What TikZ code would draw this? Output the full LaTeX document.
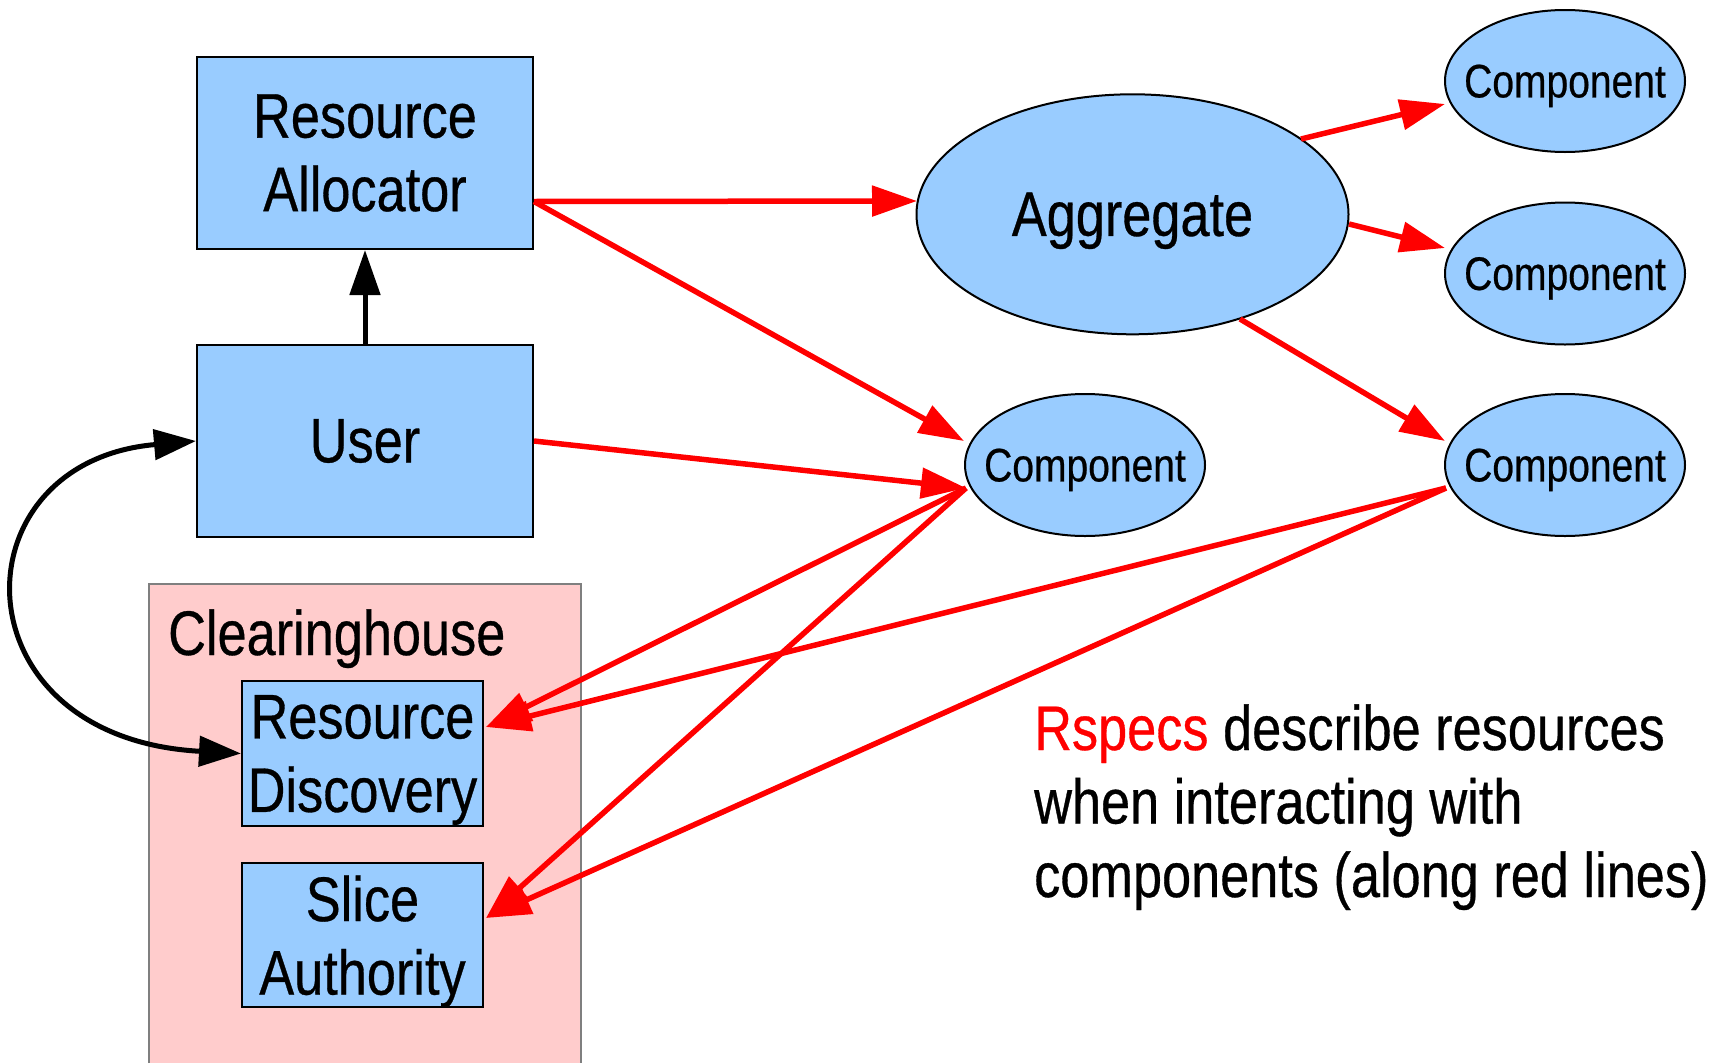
\documentclass[tikz,border=0pt]{standalone}
\usepackage{fontspec}
\setmainfont{Liberation Sans}[FakeStretch=0.83,FakeBold=0.5]
\usetikzlibrary{arrows.meta,shapes.geometric,calc}
\definecolor{nodeblue}{HTML}{99CCFF}
\definecolor{chpink}{HTML}{FFCCCC}
\definecolor{chborder}{HTML}{7F7F7F}
\begin{document}
\begin{tikzpicture}[x=1pt,y=-1pt,
  bigfont/.style={font=\fontsize{63}{73.5}\selectfont},
  boxnode/.style={draw=black,line width=2pt,fill=nodeblue,rectangle,inner sep=0pt,align=center,bigfont},
  ellnode/.style={draw=black,line width=2pt,fill=nodeblue,ellipse,inner sep=0pt,text depth=0pt},
  compnode/.style={ellnode,minimum width=240pt,minimum height=142pt,font=\fontsize{47}{55}\selectfont},
  redarrow/.style={draw=red,line width=5.5pt,-{Triangle[length=45pt,width=30pt]}},
  blackarrow/.style={draw=black,line width=5pt,-{Triangle[length=45pt,width=30pt]}},
  dblarrow/.style={draw=black,line width=5pt,{Triangle[length=42pt,width=30pt]}-{Triangle[length=42pt,width=30pt]}},
]
\useasboundingbox (0,0) rectangle (1719,1063);

% Clearinghouse
\fill[chpink] (149,584) rectangle (581,1063);
\draw[chborder,line width=1.5pt] (149,1063) -- (149,584) -- (581,584) -- (581,1063);
\node[bigfont,anchor=base west,inner sep=0pt] (CHlabel) at (168,655) {Clearinghouse};

% Boxes
\node[boxnode,minimum width=336pt,minimum height=192pt] (RA) at (365,153) {Resource\\Allocator};
\node[boxnode,minimum width=336pt,minimum height=192pt] (User) at (365,441) {User};
\node[boxnode,minimum width=241pt,minimum height=145pt,text depth=0pt] (RD) at (362.5,753.5) {Resource\\Discovery};
\node[boxnode,minimum width=241pt,minimum height=144pt,text depth=0pt] (SA) at (362.5,935) {Slice\\Authority};

% Ellipses
\node[ellnode,minimum width=432pt,minimum height=240pt,font=\fontsize{63}{73}\selectfont] (Agg) at (1132.5,214.3) {\makebox[0pt]{Aggregate}};
\node[compnode] (C1) at (1565,81) {\makebox[0pt]{Component}};
\node[compnode] (C2) at (1565,273.5) {\makebox[0pt]{Component}};
\node[compnode] (C3) at (1565,465) {\makebox[0pt]{Component}};
\node[compnode] (CM) at (1085,465) {\makebox[0pt]{Component}};

% Annotation
\node[bigfont,anchor=base west,align=left,inner sep=0pt] (note) at (1034,897)
  {\textcolor{red}{Rspecs} describe resources\\when interacting with\\components (along red lines)};

% Connector end points
\coordinate (raOut) at ($(RA.south east)!0.25!(RA.north east)$);
\coordinate (aggIn) at ($(Agg.center)+(-215.5,-13.3)$);
\coordinate (aggO1) at ($(Agg.center)+(168.5,-75.3)$);
\coordinate (aggO2) at ($(Agg.center)+(216.5,9.7)$);
\coordinate (aggO3) at ($(Agg.center)+(107.5,104.7)$);
\coordinate (c1In) at ($(C1.center)+(-120,23)$);
\coordinate (c2In) at ($(C2.center)+(-120,-25.5)$);
\coordinate (c3In) at ($(C3.center)+(-120,-24)$);
\coordinate (c3Out) at ($(C3.center)+(-119,23)$);
\coordinate (cmIn) at ($(CM.center)+(-121,-24)$);
\coordinate (cmOut) at ($(CM.center)+(-119,23)$);
\coordinate (rdIn) at ($(RD.north east)+(2,47)$);
\coordinate (saIn) at ($(SA.north east)+(2,56)$);

% Red connectors
\draw[redarrow] (raOut) -- (aggIn);
\draw[redarrow] (raOut) -- (cmIn);
\draw[redarrow] (User.east) -- (cmOut);
\draw[redarrow] (cmOut) -- (rdIn);
\draw[redarrow] (cmOut) -- (saIn);
\draw[redarrow] (c3Out) -- (rdIn);
\draw[redarrow] (c3Out) -- (saIn);
\draw[redarrow] (aggO1) -- (c1In);
\draw[redarrow] (aggO2) -- (c2In);
\draw[redarrow] (aggO3) -- (c3In);

% Black connectors
\draw[blackarrow] (User.north) -- (RA.south);
\draw[dblarrow] (User.west) .. controls (-46,462) and (-46,738) .. (RD.west);
\end{tikzpicture}
\end{document}
